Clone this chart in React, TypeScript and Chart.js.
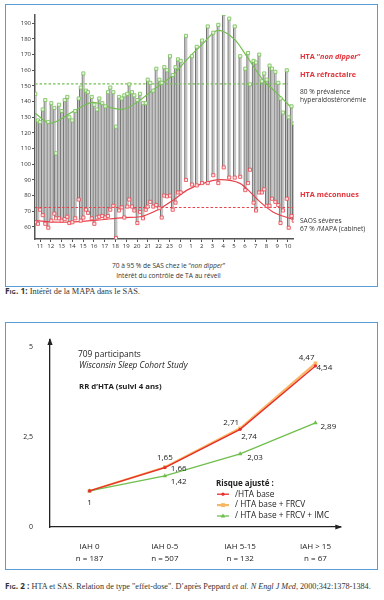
import React, { useEffect, useRef } from 'react';
import { Chart, registerables } from 'chart.js';
Chart.register(...registerables);

// ---------- Figure 1 data (ABPM readings) ----------
const times = [10.56, 10.81, 11.0, 11.25, 11.49, 11.77, 12.05, 12.33, 12.48, 12.76, 13.01, 13.29, 13.53, 13.72, 14.0, 14.27, 14.59, 14.78, 15.02, 15.27, 15.45, 15.8, 16.04, 16.29, 16.5, 16.78, 17.06, 17.31, 17.52, 17.8, 18.05, 18.33, 18.58, 18.82, 19.1, 19.28, 19.53, 19.75, 20.03, 20.28, 20.55, 20.81, 20.99, 21.23, 21.51, 21.79, 22.07, 22.29, 22.53, 22.78, 23.06, 23.31, 23.57, 23.8, 24.05, 24.54, 25.1, 25.54, 26.03, 26.56, 27.07, 27.54, 28.04, 28.55, 29.06, 29.57, 30.04, 30.3, 30.48, 30.81, 31.04, 31.33, 31.58, 31.8, 32.03, 32.29, 32.52, 32.83, 33.1, 33.31, 33.54, 33.89, 34.07, 34.33, 34.54];
const systolic = [145, 128, 127, 135, 141, 127, 139, 136, 107, 138, 134, 141, 143, 130, 128, 134, 142, 149, 158, 147, 146, 143, 138, 135, 142, 139, 137, 146, 149, 146, 124, 143, 142, 144, 145, 151, 146, 144, 141, 145, 139, 139, 154, 152, 147, 161, 154, 152, 162, 160, 169, 157, 162, 167, 166, 182, 169, 175, 179, 188, 184, 189, 196, 193, 188, 169, 161, 171, 151, 166, 165, 170, 153, 158, 154, 163, 161, 159, 152, 142, 133, 160, 130, 137, 126];
const diastolic = [63, 62, 71, 67.5, 62, 59.5, 64, 68.5, 65.5, 65.5, 64, 65, 66.5, 62.5, 63, 65.5, 77.5, 64, 66, 71, 69, 65.5, 62, 66, 66.5, 67, 66, 67, 71, 73.5, 53, 70.5, 72.5, 66, 73, 77.5, 73, 70.5, 62.5, 69.5, 65.5, 71, 73, 76, 73, 74, 72, 66, 80, 79.5, 80, 71, 75.5, 82, 82, 90, 87, 86.5, 88, 88, 93, 88, 98, 91.5, 91.5, 92, 83.5, 88, 96.5, 75.5, 70.5, 82, 82, 84, 73.5, 73.5, 78, 76, 74, 62.5, 70.5, 78, 59.5, 67, 64];
const sysTrendT = [10.54, 11.93, 14.06, 15.92, 17.77, 18.61, 20.28, 21.48, 23.34, 24.64, 26.12, 27.52, 29.09, 30.2, 31.69, 32.99, 34.38];
const sysTrend = [132.6, 126.2, 133.6, 139.5, 135.8, 135, 141, 147.4, 157, 167, 177, 185.5, 179.4, 168.7, 153.8, 145.3, 135.8];
const diaTrendT = [10.54, 13.13, 16.29, 18.79, 20.28, 21.85, 23.34, 24.64, 26.12, 27.7, 29.55, 30.48, 31.41, 32.61, 34.38];
const diaTrend = [64, 63, 64.3, 66, 66.5, 70.7, 77.1, 83.5, 87.8, 90.2, 87.8, 82.4, 76, 69.6, 65];
const sysThreshold = 151.3;
const sysThresholdSpan = [10.54, 34.0];
const diaThreshold = 72.4;
const diaThresholdSpan = [10.54, 34.47];
const hourLabels = ['11', '12', '13', '14', '15', '16', '17', '18', '19', '20', '21', '22', '23', '0', '1', '2', '3', '4', '5', '6', '7', '8', '9', '10'];
const fig1YTicks = [60, 70, 80, 90, 100, 110, 120, 130, 140, 150, 160, 170, 180, 190];

// ---------- Figure 2 data ----------
const groups = [['IAH 0', 'n = 187'], ['IAH 0-5', 'n = 507'], ['IAH 5-15', 'n = 132'], ['IAH > 15', 'n = 67']];
const rrBase = [1, 1.65, 2.71, 4.47];
const rrFrcv = [1, 1.66, 2.74, 4.54];
const rrImc = [1, 1.42, 2.03, 2.89];
const seriesNames = ['/HTA base', '/ HTA base + FRCV', '/ HTA base + FRCV + IMC'];
const legendTitle = 'Risque ajusté :';
const fig2YTicks = [0, 2.5, 5];

const FONT = '"Open Sans", "DejaVu Sans", sans-serif';
const SERIF = '"Liberation Serif", "DejaVu Serif", serif';
const RED_TXT = '#e2323a';
const GREEN = '#74bf52';
const RED = '#e8414b';

function fig1Config(): any {
  return {
    type: 'bar',
    data: {
      datasets: [
        {
          type: 'bar',
          data: times.map((t, i) => ({ x: t, y: [diastolic[i], systolic[i]] })),
          backgroundColor: '#c4c4c4',
          borderColor: '#6c6c6c',
          borderWidth: { left: 1, right: 0, top: 0, bottom: 0 },
          borderSkipped: false,
          barThickness: 3,
          order: 10,
        },
        {
          type: 'line',
          data: sysThresholdSpan.map((t) => ({ x: t, y: sysThreshold })),
          borderColor: GREEN, borderWidth: 1.3, borderDash: [2.5, 2], pointRadius: 0, order: 6,
        },
        {
          type: 'line',
          data: diaThresholdSpan.map((t) => ({ x: t, y: diaThreshold })),
          borderColor: RED, borderWidth: 1.2, borderDash: [2.5, 2], pointRadius: 0, order: 6,
        },
        {
          type: 'line',
          data: sysTrendT.map((t, i) => ({ x: t, y: sysTrend[i] })),
          borderColor: GREEN, borderWidth: 1.2, cubicInterpolationMode: 'monotone', pointRadius: 0, order: 5,
        },
        {
          type: 'line',
          data: diaTrendT.map((t, i) => ({ x: t, y: diaTrend[i] })),
          borderColor: RED, borderWidth: 1.2, cubicInterpolationMode: 'monotone', pointRadius: 0, order: 5,
        },
        {
          type: 'line', showLine: false,
          data: times.map((t, i) => ({ x: t, y: systolic[i] })),
          pointStyle: 'rect', pointRadius: 2.2, pointBorderWidth: 0.8,
          pointBorderColor: GREEN, pointBackgroundColor: '#eaf6e4', order: 1,
        },
        {
          type: 'line', showLine: false,
          data: times.map((t, i) => ({ x: t, y: diastolic[i] })),
          pointStyle: 'rect', pointRadius: 2.2, pointBorderWidth: 0.8,
          pointBorderColor: RED, pointBackgroundColor: '#fde9ea', order: 1,
        },
      ],
    },
    options: {
      animation: false,
      responsive: false,
      maintainAspectRatio: false,
      layout: { padding: { left: 0, top: 15, right: 90.1, bottom: 0 } },
      plugins: { legend: { display: false }, tooltip: { enabled: false } },
      scales: {
        x: {
          type: 'linear', min: 10.536, max: 34.55, offset: false,
          grid: { display: true, drawOnChartArea: false, drawTicks: true, tickLength: 3, color: '#555', offset: false },
          border: { display: true, color: '#555', width: 1.5 },
          ticks: {
            font: { family: FONT, size: 6 }, color: '#333', padding: 1, maxRotation: 0, autoSkip: false,
            callback: (_v: any, i: number) => hourLabels[i],
          },
          afterBuildTicks: (s: any) => { s.ticks = hourLabels.map((_, i) => ({ value: 11 + i })); },
          afterFit: (s: any) => { s.height = 21; },
        },
        y: {
          min: 52.3, max: 195.3,
          grid: { display: true, drawOnChartArea: false, drawTicks: true, tickLength: 3, color: '#555' },
          border: { display: true, color: '#555', width: 1.5 },
          ticks: { font: { family: FONT, size: 6 }, color: '#333', padding: 1, callback: (v: any) => String(v) },
          afterBuildTicks: (s: any) => { s.ticks = fig1YTicks.map((v) => ({ value: v })); },
          afterFit: (s: any) => { s.width = 35; },
        },
      },
    },
  };
}

const fmt = (v: number) => (Number.isInteger(v) ? String(v) : v.toFixed(2).replace('.', ','));

// label offsets per dataset / point: [dx, dy, align] or null
const valueLabelOffsets: any[] = [
  [[0, 12, 'center'], [0, -10, 'center'], [-1, -7, 'right'], [-1, -8, 'right']],
  [null, [6, 2, 'left'], [1, 8, 'left'], [1, 4, 'left']],
  [null, [6, 6, 'left'], [7, 4, 'left'], [5, 4, 'left']],
];

const valueLabelPlugin = {
  id: 'valueLabels',
  afterDatasetsDraw(chart: any) {
    const { ctx } = chart;
    ctx.save();
    ctx.font = `8px ${FONT}`;
    ctx.fillStyle = '#222';
    ctx.textBaseline = 'middle';
    chart.data.datasets.forEach((ds: any, di: number) => {
      const meta = chart.getDatasetMeta(di);
      meta.data.forEach((pt: any, i: number) => {
        const off = valueLabelOffsets[di] && valueLabelOffsets[di][i];
        if (!off) return;
        ctx.textAlign = off[2];
        ctx.fillText(fmt(ds.data[i].y), pt.x + off[0], pt.y + off[1]);
      });
    });
    ctx.restore();
  },
};

function drawMarker(ctx: any, style: string, x: number, y: number, r: number, color: string) {
  ctx.fillStyle = color;
  ctx.beginPath();
  if (style === 'rect') {
    ctx.rect(x - r * 0.75, y - r * 0.75, r * 1.5, r * 1.5);
  } else if (style === 'triangle') {
    ctx.moveTo(x, y - r);
    ctx.lineTo(x - r * 0.9, y + r * 0.6);
    ctx.lineTo(x + r * 0.9, y + r * 0.6);
    ctx.closePath();
  } else {
    ctx.arc(x, y, r, 0, Math.PI * 2);
  }
  ctx.fill();
}

const legendPlugin = {
  id: 'customLegend',
  afterDraw(chart: any) {
    const { ctx } = chart;
    const x0 = 216, y0 = 161.3, gap = 10.9;
    ctx.save();
    ctx.textBaseline = 'middle';
    ctx.textAlign = 'left';
    ctx.fillStyle = '#222';
    ctx.font = `bold 8px ${FONT}`;
    ctx.fillText(legendTitle, x0, y0);
    ctx.font = `8.3px ${FONT}`;
    chart.data.datasets.forEach((ds: any, i: number) => {
      const y = y0 + gap * (i + 1);
      ctx.strokeStyle = ds.borderColor;
      ctx.lineWidth = ds.borderWidth;
      ctx.beginPath();
      ctx.moveTo(x0 + 1, y);
      ctx.lineTo(x0 + 13, y);
      ctx.stroke();
      drawMarker(ctx, ds.pointStyle, x0 + 7, y, ds.pointRadius, ds.borderColor);
      ctx.fillStyle = '#222';
      ctx.fillText(ds.label, x0 + 19, y);
    });
    ctx.restore();
  },
};

const arrowPlugin = {
  id: 'axisArrows',
  afterDraw(chart: any) {
    const { ctx, chartArea } = chart;
    const { left, right, top, bottom } = chartArea;
    ctx.save();
    ctx.fillStyle = '#222';
    ctx.beginPath();
    ctx.moveTo(left, top - 2);
    ctx.lineTo(left - 2.6, top + 5);
    ctx.lineTo(left + 2.6, top + 5);
    ctx.closePath();
    ctx.fill();
    ctx.beginPath();
    ctx.moveTo(right + 2, bottom);
    ctx.lineTo(right - 5, bottom - 2.6);
    ctx.lineTo(right - 5, bottom + 2.6);
    ctx.closePath();
    ctx.fill();
    ctx.restore();
  },
};

function fig2Config(): any {
  const mk = (vals: number[]) => vals.map((v, i) => ({ x: i, y: v }));
  return {
    type: 'line',
    data: {
      datasets: [
        {
          label: seriesNames[0], data: mk(rrBase), borderColor: '#e62e2d', borderWidth: 1.3,
          pointStyle: 'circle', pointRadius: 1.6, pointBackgroundColor: '#e62e2d', pointBorderWidth: 0, order: 1,
        },
        {
          label: seriesNames[1], data: mk(rrFrcv), borderColor: '#f9b765', borderWidth: 2.2,
          pointStyle: 'rect', pointRadius: 2.6, pointBackgroundColor: '#f9b765', pointBorderWidth: 0, order: 3,
        },
        {
          label: seriesNames[2], data: mk(rrImc), borderColor: '#6fbe4c', borderWidth: 1.3,
          pointStyle: 'triangle', pointRadius: 2.6, pointBackgroundColor: '#6fbe4c', pointBorderWidth: 0, order: 2,
        },
      ],
    },
    options: {
      animation: false,
      responsive: false,
      maintainAspectRatio: false,
      layout: { padding: { left: 0, top: 18, right: 43.7, bottom: 0 } },
      plugins: { legend: { display: false }, tooltip: { enabled: false } },
      scales: {
        x: {
          type: 'linear', min: -0.525, max: 3.33,
          grid: { display: false },
          border: { display: true, color: '#222', width: 1.3 },
          ticks: {
            font: { family: FONT, size: 8, lineHeight: 1.45 }, color: '#222', padding: 6,
            maxRotation: 0, autoSkip: false,
            callback: (_v: any, i: number) => groups[i],
          },
          afterBuildTicks: (s: any) => { s.ticks = groups.map((_, i) => ({ value: i })); },
          afterFit: (s: any) => { s.height = 43; },
        },
        y: {
          min: 0, max: 5.19,
          grid: { display: false },
          border: { display: true, color: '#222', width: 1.3 },
          ticks: {
            font: { family: FONT, size: 7 }, color: '#222', padding: 9,
            callback: (v: any) => String(v).replace('.', ','),
          },
          afterBuildTicks: (s: any) => { s.ticks = fig2YTicks.map((v) => ({ value: v })); },
          afterFit: (s: any) => { s.width = 50; },
        },
      },
    },
    plugins: [valueLabelPlugin, legendPlugin, arrowPlugin],
  };
}

function ChartCanvas({ config, top, height }: { config: () => any; top: number; height: number }) {
  const ref = useRef<HTMLCanvasElement>(null);
  useEffect(() => {
    const chart = new Chart(ref.current as HTMLCanvasElement, config());
    return () => chart.destroy();
  }, []);
  return (
    <canvas
      ref={ref}
      width={384}
      height={height}
      style={{ position: 'absolute', left: 0, top, width: 384, height }}
    />
  );
}

function Txt({ x, y, size = 7, weight = 400, color = '#333', italic = false, center = false, family = FONT, children }: any) {
  const style: React.CSSProperties = {
    position: 'absolute', left: x, top: y,
    transform: center ? 'translate(-50%, -50%)' : 'translateY(-50%)',
    fontFamily: family, fontSize: size, fontWeight: weight, color,
    fontStyle: italic ? 'italic' : 'normal', whiteSpace: 'nowrap', lineHeight: 1,
  };
  return <div style={style}>{children}</div>;
}

const boxStyle = (top: number, height: number): React.CSSProperties => ({
  position: 'absolute', left: 5, top, width: 373, height, border: '1px solid #5b9bd5', boxSizing: 'border-box',
});

export default function App() {
  return (
    <div style={{ position: 'absolute', left: 0, top: 0, width: 384, height: 600, background: '#fff', overflow: 'hidden' }}>
      <div style={boxStyle(4, 283)} />
      <div style={boxStyle(322, 248)} />
      <ChartCanvas config={fig1Config} top={0} height={260} />
      <ChartCanvas config={fig2Config} top={322} height={248} />

      {/* Figure 1 annotations */}
      <Txt x={300} y={57} size={7.3} weight={700} color={RED_TXT}>HTA “<i>non dipper</i>”</Txt>
      <Txt x={300} y={75} size={7.3} weight={700} color={RED_TXT}>HTA réfractaire</Txt>
      <Txt x={300} y={92} size={6.6}>80 % prévalence</Txt>
      <Txt x={300} y={100} size={6.6}>hyperaldostéronémie</Txt>
      <Txt x={300} y={195} size={7.3} weight={700} color={RED_TXT}>HTA méconnues</Txt>
      <Txt x={300} y={221} size={6.6}>SAOS sévères</Txt>
      <Txt x={300} y={229} size={6.6}>67 % /MAPA (cabinet)</Txt>
      <Txt x={168.5} y={266} size={6.6} center>70 à 95 % de SAS chez le “<i>non dipper</i>”</Txt>
      <Txt x={168.5} y={276} size={6.6} center>Intérêt du contrôle de TA au réveil</Txt>

      <Txt x={5} y={292} size={8.4} family={SERIF} color="#333">
        <span style={{ fontFamily: FONT, fontWeight: 700, fontVariant: 'small-caps' }}>Fig. 1:</span> Intérêt de la MAPA dans le SAS.
      </Txt>

      {/* Figure 2 annotations */}
      <Txt x={78} y={354} size={8.4} color="#222">709 participants</Txt>
      <Txt x={79} y={365} size={8.4} color="#222" italic>Wisconsin Sleep Cohort Study</Txt>
      <Txt x={79} y={387} size={7.8} color="#222" weight={700}>RR d’HTA (suivi 4 ans)</Txt>

      <Txt x={5} y={587} size={8.2} family={SERIF} color="#333">
        <span style={{ fontFamily: FONT, fontWeight: 700, fontVariant: 'small-caps' }}>Fig. 2 :</span> HTA et SAS. Relation de type "effet-dose". D’après Peppard <i>et al. N Engl J Med</i>, 2000;342:1378-1384.
      </Txt>
    </div>
  );
}
